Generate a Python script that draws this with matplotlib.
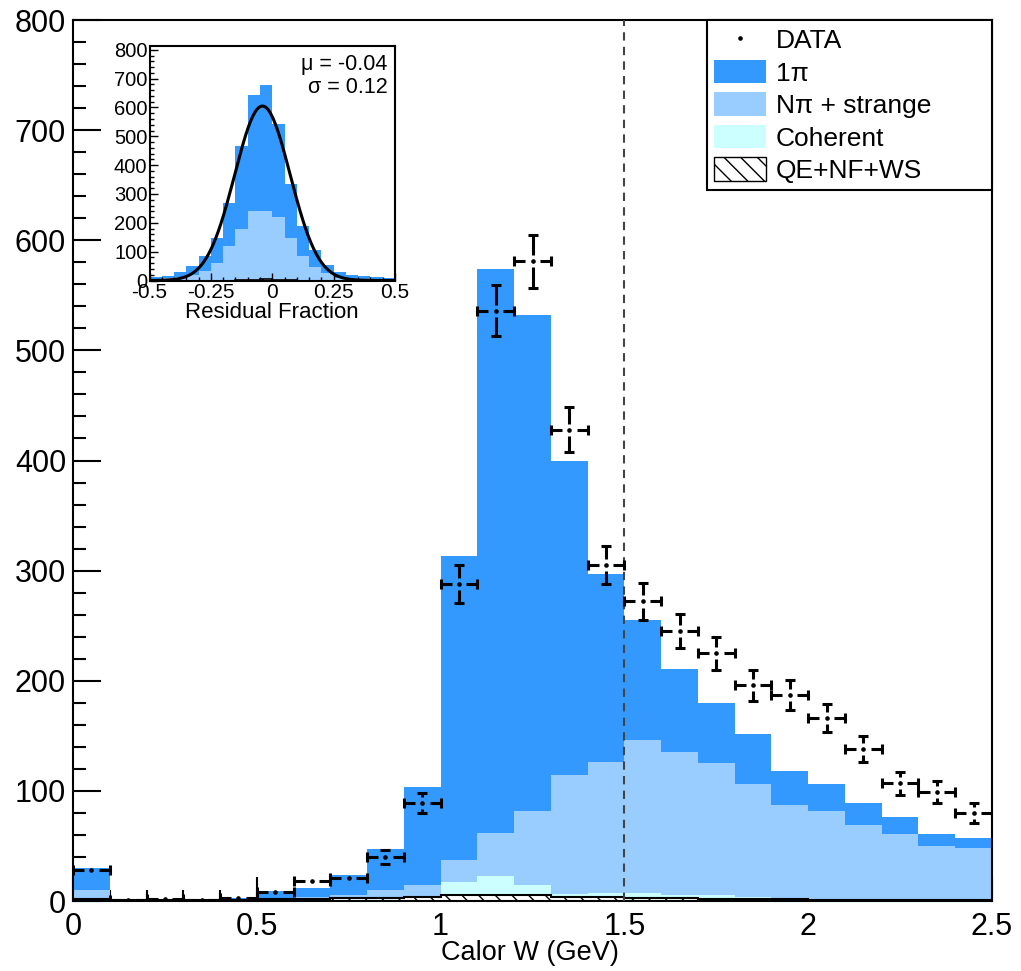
import numpy as np
import matplotlib
matplotlib.use('Agg')
import matplotlib.pyplot as plt
from matplotlib.patches import Patch
from matplotlib.lines import Line2D
from matplotlib.ticker import MultipleLocator, FormatStrFormatter

plt.rcParams['font.family'] = ['Liberation Sans', 'DejaVu Sans']
plt.rcParams['hatch.linewidth'] = 1.0

# ── main histogram: Calor W, 25 bins of 0.1 GeV ────────────────────────────────
w_edges = np.round(np.arange(0, 2.51, 0.1), 2)
data = [28, 1, 2, 1, 3, 8, 18, 21, 40, 89, 288, 536, 581, 428, 305,
        272, 245, 225, 196, 187, 166, 138, 107, 99, 80]
data_err = [5.3, 1, 1.4, 1, 1.8, 2.8, 4.2, 4.6, 6.3, 9.4, 17, 23, 24, 20.7, 17.5,
            16.5, 15.7, 15, 14, 13.7, 12.9, 11.7, 10.3, 9.9, 8.9]
qe_nf_ws = [2, 1, 1, 1, 1, 1.5, 2, 2.5, 3, 3.5, 5, 5, 5, 4, 3.5,
            3, 2.5, 2, 1.5, 1.5, 1, 1, 1, 1, 1]
coherent = [0, 0, 0, 0, 0, 0, 0, 0, 1, 1, 12, 18, 9.5, 2.5, 4,
            4.5, 3, 3, 2, 1.5, 1, 1, 1, 0.5, 0.5]
npi_strange = [8, 0, 0, 0.5, 1, 1.5, 2, 2.5, 6, 10, 20.5, 39, 67.5, 108, 118.5,
               138.5, 129.5, 120, 102.5, 84, 80, 67, 59, 48.5, 46.5]
one_pi = [20, 0, 0, 0.5, 1, 6.4, 7.8, 18.6, 37.5, 89, 275.5, 512, 450, 285.5, 171,
          109, 76, 55, 46, 31, 24, 20, 15, 10.6, 9.5]

# ── inset: residual fraction, 20 bins of 0.05 ─────────────────────────────────
r_edges = np.round(np.arange(-0.5, 0.501, 0.05), 3)
r_qe = [0, 0, 0, 0, 0, 0, 0, 1, 3, 4, 3, 1, 0, 0, 0, 0, 0, 0, 0, 0]
r_npi = [5, 8, 12, 20, 34, 62, 120, 177, 237, 236, 218, 145, 86, 48, 25, 10, 6, 4, 3, 2]
r_1pi = [6, 6, 16, 31, 51, 86, 150, 288, 405, 438, 322, 190, 103, 58, 29, 18, 14, 12, 10, 6]
fit_mu, fit_sigma, fit_amp = -0.04, 0.113, 605

C_1PI = '#3399ff'
C_NPI = '#99ccff'
C_COH = '#ccffff'
HATCH = '\\\\'

W, H = 1021, 971
fig = plt.figure(figsize=(W / 100, H / 100), dpi=100)
ax = fig.add_axes([73 / W, 1 - 901 / H, 919 / W, 881 / H])

# stacked histogram, bottom to top: QE+NF+WS, coherent, Npi, 1pi
comps = [np.array(qe_nf_ws, float), np.array(coherent, float),
         np.array(npi_strange, float), np.array(one_pi, float)]
bottoms = np.cumsum([np.zeros(len(data))] + comps, axis=0)
ax.stairs(bottoms[1], w_edges, baseline=bottoms[0], fill=True, facecolor='white',
          edgecolor='black', hatch=HATCH, lw=0, zorder=2)
ax.stairs(bottoms[1], w_edges, baseline=None, color='black', lw=1.5, zorder=2.5)
ax.stairs(bottoms[2], w_edges, baseline=bottoms[1], fill=True, color=C_COH, lw=0, zorder=2)
ax.stairs(bottoms[3], w_edges, baseline=bottoms[2], fill=True, color=C_NPI, lw=0, zorder=2)
ax.stairs(bottoms[4], w_edges, baseline=bottoms[3], fill=True, color=C_1PI, lw=0, zorder=2)

# data points, ROOT style with a gap round the marker
x = (w_edges[:-1] + w_edges[1:]) / 2
lo, hi = w_edges[:-1], w_edges[1:]
y = np.array(data, float)
e = np.array(data_err, float)
gx, gy = 0.02, 5.5
lw_e = 2.2
ax.hlines(y, lo, x - gx, color='k', lw=lw_e, zorder=4)
ax.hlines(y, x + gx, hi, color='k', lw=lw_e, zorder=4)
ax.plot(np.r_[lo, hi], np.r_[y, y], ls='none', marker='|', ms=7, mew=lw_e, color='k', zorder=4)
m = e > gy
ax.vlines(x[m], y[m] + gy, y[m] + e[m], color='k', lw=lw_e, zorder=4)
ax.vlines(x[m], y[m] - e[m], y[m] - gy, color='k', lw=lw_e, zorder=4)
ax.plot(np.r_[x[m], x[m]], np.r_[y[m] + e[m], y[m] - e[m]], ls='none', marker='_',
        ms=7, mew=lw_e, color='k', zorder=4)
ax.plot(x, y, ls='none', marker='o', ms=2.3, color='k', zorder=4)

ax.axvline(1.5, color='#444444', lw=1.5, ls=(0, (4, 3)), zorder=3)

ax.set_xlim(0, 2.5)
ax.set_ylim(0, 800)
ax.xaxis.set_major_locator(MultipleLocator(0.5))
ax.xaxis.set_minor_locator(MultipleLocator(0.1))
ax.yaxis.set_major_locator(MultipleLocator(100))
ax.yaxis.set_minor_locator(MultipleLocator(20))
ax.xaxis.set_major_formatter(FormatStrFormatter('%g'))
ax.tick_params(which='both', direction='in', top=False, right=False, labelsize=22, width=1.5)
ax.tick_params(axis='x', which='major', length=17, pad=8)
ax.tick_params(axis='x', which='minor', length=8)
ax.tick_params(axis='y', which='major', length=20, pad=5)
ax.tick_params(axis='y', which='minor', length=9.5)
for s in ax.spines.values():
    s.set_linewidth(1.5)
fig.text(530 / W, 1 - 953 / H, 'Calor W (GeV)', fontsize=19.5, ha='center', va='center')

handles = [Line2D([], [], ls='none', marker='o', ms=2.3, color='k'),
           Patch(facecolor=C_1PI, edgecolor='none'),
           Patch(facecolor=C_NPI, edgecolor='none'),
           Patch(facecolor=C_COH, edgecolor='none'),
           Patch(facecolor='white', edgecolor='black', hatch=HATCH)]
labels = ['DATA', '1π', 'Nπ + strange', 'Coherent', 'QE+NF+WS']
leg = ax.legend(handles, labels, loc='upper left', mode='expand',
                bbox_to_anchor=(0.690, 0.8025, 0.310, 0.1975), borderaxespad=0,
                fontsize=19, frameon=True, fancybox=False, edgecolor='black',
                framealpha=1, borderpad=0.28, labelspacing=0.25, handlelength=1.95,
                handleheight=1.0, handletextpad=0.38)
leg.get_frame().set_linewidth(1.5)
leg.set_zorder(5)

# ── inset ──────────────────────────────────────────────────────────────────────
ax2 = fig.add_axes([149.5 / W, 1 - 280.5 / H, 245.5 / W, 235 / H])
rb = np.cumsum([np.zeros(len(r_qe)), np.array(r_qe, float), np.array(r_npi, float),
                np.array(r_1pi, float)], axis=0)
ax2.stairs(rb[2], r_edges, baseline=rb[1], fill=True, color=C_NPI, lw=0)
ax2.stairs(rb[3], r_edges, baseline=rb[2], fill=True, color=C_1PI, lw=0)
ax2.stairs(rb[1], r_edges, baseline=rb[0], fill=True, facecolor='white', edgecolor='black',
           hatch=HATCH, lw=0)
ax2.stairs(rb[1], r_edges, baseline=None, color='black', lw=1.2)
xs = np.linspace(-0.5, 0.5, 400)
ax2.plot(xs, fit_amp * np.exp(-0.5 * ((xs - fit_mu) / fit_sigma) ** 2), color='k', lw=2.2)
ax2.set_xlim(-0.5, 0.5)
ax2.set_ylim(0, 815)
ax2.xaxis.set_major_locator(MultipleLocator(0.25))
ax2.xaxis.set_minor_locator(MultipleLocator(0.05))
ax2.yaxis.set_major_locator(MultipleLocator(100))
ax2.yaxis.set_minor_locator(MultipleLocator(20))
ax2.xaxis.set_major_formatter(FormatStrFormatter('%g'))
ax2.tick_params(which='both', direction='in', top=False, right=False, width=1.0)
ax2.tick_params(axis='x', labelsize=15, pad=2, length=6)
ax2.tick_params(axis='y', labelsize=14.5, pad=1.5, length=6)
ax2.tick_params(which='minor', length=3)
for s in ax2.spines.values():
    s.set_linewidth(1.5)
ax2.text(0.97, 0.92, 'μ = -0.04', transform=ax2.transAxes, fontsize=15.5, ha='right', va='center')
ax2.text(0.97, 0.82, 'σ = 0.12', transform=ax2.transAxes, fontsize=15.5, ha='right', va='center')
fig.text(272 / W, 1 - 313 / H, 'Residual Fraction', fontsize=16, ha='center', va='center')

fig.savefig('out.png', dpi=100)
